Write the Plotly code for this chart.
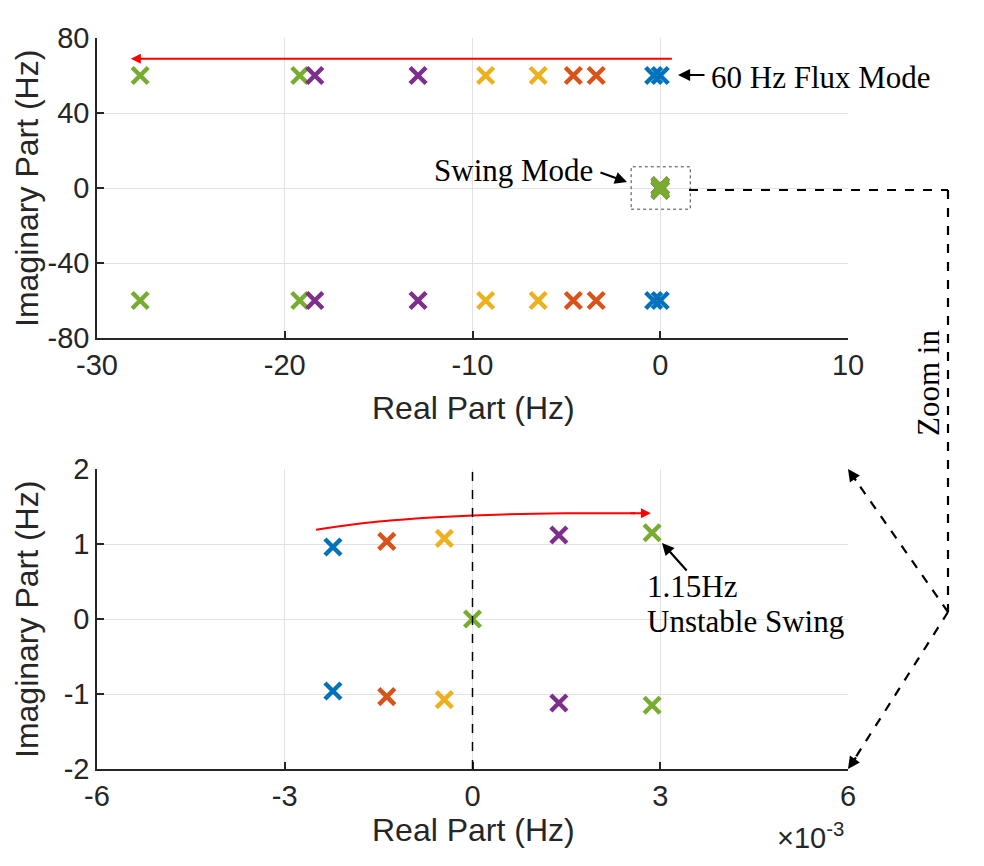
import plotly.graph_objects as go

# Colores por caso (orden MATLAB)
colores = ['#0072BD', '#D95319', '#EDB120', '#7E2F8E', '#77AC30']

# Modos de flujo de 60 Hz: parte real (Hz), dos por caso, parte imaginaria +-60 Hz
flujo_re = [[-0.35, 0.0], [-4.63, -3.41], [-9.3, -6.5], [-18.4, -12.9], [-27.7, -19.2]]
flujo_im = 60.0

# Modo de oscilación (swing): parte real en Hz, parte imaginaria en Hz
swing_re = [-0.00223, -0.00137, -0.00045, 0.00138, 0.00287]
swing_im = [0.96, 1.035, 1.075, 1.12, 1.15]

# Autovalor en el origen (caso verde)
cero_re = [0.0]
cero_im = [0.0]

# Curva roja de tendencia en el zoom
curva_x = [-0.0025, -0.002, -0.0015, -0.001, -0.0005, 0.0, 0.0005, 0.001, 0.0015, 0.002, 0.0026]
curva_y = [1.19, 1.25, 1.30, 1.335, 1.36, 1.38, 1.395, 1.405, 1.41, 1.41, 1.41]

# Ticks (con guion normal, como en el original)
ticks_x1 = [-30, -20, -10, 0, 10]
ticks_x1_txt = ['-30', '-20', '-10', '0', '10']
ticks_y1 = [-80, -40, 0, 40, 80]
ticks_y1_txt = ['-80', '-40', '0', '40', '80']
ticks_x2 = [-0.006, -0.003, 0.0, 0.003, 0.006]
ticks_x2_txt = ['-6', '-3', '0', '3', '6']
ticks_y2 = [-2, -1, 0, 1, 2]
ticks_y2_txt = ['-2', '-1', '0', '1', '2']

W, H = 984, 866
px = lambda v: v / W
py = lambda v: 1 - v / H

marca = lambda c: dict(symbol='x-thin', size=16, line=dict(width=4.5, color=c), color=c)

fig = go.Figure()

# Gráfico superior: modos de oscilación (cerca del origen)
for i, c in enumerate(colores):
    xs = [swing_re[i], swing_re[i]]
    ys = [swing_im[i], -swing_im[i]]
    if i == 4:
        xs += cero_re
        ys += cero_im
    fig.add_trace(go.Scatter(x=xs, y=ys, mode='markers', marker=marca(c),
                             xaxis='x', yaxis='y', showlegend=False))
# Gráfico superior: modos de flujo
for i in reversed(range(len(colores))):
    xs = flujo_re[i] + flujo_re[i]
    ys = [flujo_im] * 2 + [-flujo_im] * 2
    fig.add_trace(go.Scatter(x=xs, y=ys, mode='markers', marker=marca(colores[i]),
                             xaxis='x', yaxis='y', showlegend=False))

# Gráfico inferior: curva roja
fig.add_trace(go.Scatter(x=curva_x, y=curva_y, mode='lines', line=dict(color='red', width=2, shape='spline'),
                         xaxis='x2', yaxis='y2', showlegend=False, hoverinfo='skip'))
# Gráfico inferior: zoom del modo swing
for i, c in enumerate(colores):
    xs = [swing_re[i], swing_re[i]]
    ys = [swing_im[i], -swing_im[i]]
    if i == 4:
        xs += cero_re
        ys += cero_im
    fig.add_trace(go.Scatter(x=xs, y=ys, mode='markers', marker=marca(c),
                             xaxis='x2', yaxis='y2', showlegend=False))

eje = dict(showline=True, linecolor='#262626', linewidth=1.5, ticks='inside', ticklen=7,
           tickcolor='#262626', tickwidth=1.5, showgrid=True, gridcolor='#E2E2E2', gridwidth=1,
           zeroline=False, mirror=False, automargin=False,
           tickfont=dict(family='Liberation Sans, Arial', size=29, color='#262626'))

dom_x = [px(97), px(848)]
fig.update_layout(
    width=W, height=H,
    margin=dict(l=0, r=0, t=0, b=0, autoexpand=False),
    plot_bgcolor='white', paper_bgcolor='white',
    xaxis=dict(eje, domain=dom_x, range=[-30, 10], tickvals=ticks_x1, ticktext=ticks_x1_txt, anchor='y'),
    yaxis=dict(eje, domain=[py(338), py(38)], range=[-80, 80], tickvals=ticks_y1, ticktext=ticks_y1_txt, anchor='x'),
    xaxis2=dict(eje, domain=dom_x, range=[-0.006, 0.006], tickvals=ticks_x2, ticktext=ticks_x2_txt, anchor='y2'),
    yaxis2=dict(eje, domain=[py(769), py(469)], range=[-2, 2], tickvals=ticks_y2, ticktext=ticks_y2_txt, anchor='x2'),
)

fuente_eje = dict(family='Liberation Sans, Arial', size=32, color='#262626')
fuente_txt = dict(family='Liberation Serif, Times New Roman', size=31, color='black')

anot = [
    dict(text='Real Part (Hz)', x=px(473), y=py(408), font=fuente_eje),
    dict(text='Real Part (Hz)', x=px(473), y=py(830), font=fuente_eje),
    dict(text='Imaginary Part (Hz)', x=px(27), y=py(189), textangle=-90, font=fuente_eje),
    dict(text='Imaginary Part (Hz)', x=px(27), y=py(620), textangle=-90, font=fuente_eje),
    dict(text='\u00d710<sup>-3</sup>', x=px(810), y=py(836), font=dict(family='Liberation Sans, Arial', size=29, color='#262626')),
    dict(text='60 Hz Flux Mode', x=px(709), y=py(77), xanchor='left', font=fuente_txt),
    dict(text='Swing Mode', x=px(513), y=py(170), font=fuente_txt),
    dict(text='1.15Hz', x=px(645), y=py(586), xanchor='left', font=fuente_txt),
    dict(text='Unstable Swing', x=px(645), y=py(621), xanchor='left', font=fuente_txt),
    dict(text='Zoom in', x=px(928), y=py(383), textangle=-90, font=fuente_txt),
]
for a in anot:
    a.setdefault('xanchor', 'center')
    a.update(xref='paper', yref='paper', yanchor='middle', showarrow=False)
    fig.add_annotation(**a)

# Flechas negras
flechas = [
    (678, 75, 28, 0),
    (627, 182, -28, -10),
    (662, 543, 26, 29),
    (848, 469, 9, 13),
    (848, 769, 9, -13),
]
for hx, hy, dx, dy in flechas:
    fig.add_annotation(x=px(hx), y=py(hy), xref='paper', yref='paper', text='',
                       showarrow=True, ax=dx, ay=dy, arrowhead=2, arrowsize=1.1,
                       arrowwidth=2.2, arrowcolor='black')

# Flecha roja superior
fig.add_annotation(x=-28.2, y=69, ax=0.7, ay=69, xref='x', yref='y', axref='x', ayref='y',
                   text='', showarrow=True, arrowhead=2, arrowsize=1, arrowwidth=2, arrowcolor='red')
# Punta de la flecha roja inferior
fig.add_annotation(x=0.00285, y=1.41, ax=0.0025, ay=1.41, xref='x2', yref='y2', axref='x2', ayref='y2',
                   text='', showarrow=True, arrowhead=2, arrowsize=1, arrowwidth=2, arrowcolor='red')

# Rectángulo punteado alrededor del modo swing
fig.add_shape(type='rect', xref='x', yref='y', x0=-1.55, x1=1.6, y0=-11.3, y1=11.3,
              line=dict(color='#444444', width=1, dash='dot'))
# Línea vertical en cero (zoom)
fig.add_shape(type='line', xref='x2', yref='y2', x0=0, x1=0, y0=-2, y1=2,
              line=dict(color='black', width=1.5, dash='dash'))

# Conector "Zoom in"
conector = [
    (689, 190, 948, 190),
    (948, 190, 948, 612),
    (948, 612, 852, 475),
    (948, 612, 852, 763),
]
for x0, y0, x1, y1 in conector:
    fig.add_shape(type='line', xref='paper', yref='paper', x0=px(x0), y0=py(y0), x1=px(x1), y1=py(y1),
                  line=dict(color='black', width=2.2, dash='dash'))

# Sin margen en el body para que la figura ocupe la ventana exacta
fig.write_html('out.html', config={'displayModeBar': False},
               post_script="document.body.style.margin='0';document.body.style.overflow='hidden';")
